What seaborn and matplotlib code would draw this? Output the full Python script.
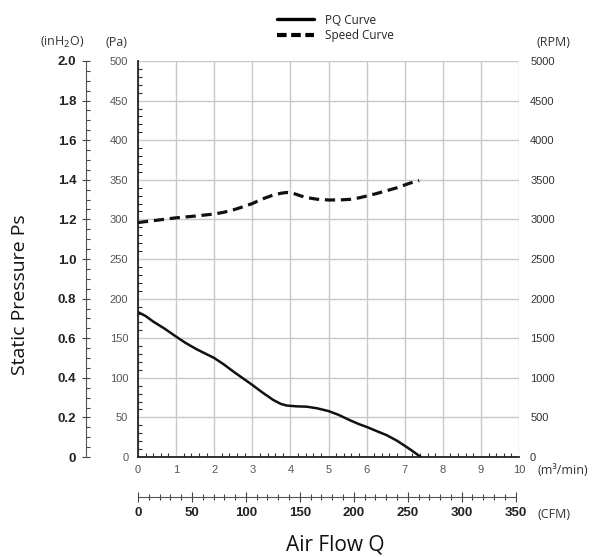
import numpy as np
import pandas as pd
import seaborn as sns
import matplotlib.pyplot as plt
from matplotlib.ticker import MultipleLocator, FixedLocator
from matplotlib.lines import Line2D

# PQ curve (m3/min -> Pa)
pq_flow = [0, 0.2, 0.4, 0.7, 1.0, 1.25, 1.54, 1.75, 2.0, 2.25, 2.5, 2.75, 3.0, 3.25, 3.55, 3.75, 3.9,
           4.15, 4.43, 4.7, 5.0, 5.25, 5.56, 5.8, 6.0, 6.25, 6.53, 6.8, 7.1, 7.25, 7.42]
pq_pa = [183, 178, 171, 162, 152, 144, 136, 131, 125, 117, 108, 99.5, 91, 82, 72, 67, 65,
         64, 63.5, 61.5, 58, 53.5, 46.5, 41.5, 38, 33, 27.5, 20.5, 11, 6, 0]

# speed curve (m3/min -> RPM)
sp_flow = [0, 0.5, 1.0, 1.5, 2.0, 2.25, 2.5, 2.75, 3.0, 3.25, 3.55, 3.75, 3.9, 4.07, 4.25, 4.43,
           4.7, 5.0, 5.3, 5.56, 5.8, 6.0, 6.25, 6.53, 6.8, 7.15, 7.38]
sp_rpm = [2960, 2990, 3020, 3042, 3068, 3090, 3120, 3158, 3200, 3255, 3308, 3330, 3340, 3330, 3300, 3275,
          3255, 3245, 3246, 3253, 3272, 3295, 3325, 3363, 3400, 3460, 3490]

q_ticks = list(range(0, 11))
pa_ticks = list(range(0, 501, 50))
rpm_ticks = list(range(0, 5001, 500))
inh2o_ticks = [0, 0.2, 0.4, 0.6, 0.8, 1.0, 1.2, 1.4, 1.6, 1.8, 2.0]
inh2o_labels = ["0", "0.2", "0.4", "0.6", "0.8", "1.0", "1.2", "1.4", "1.6", "1.8", "2.0"]
cfm_ticks = list(range(0, 351, 50))

pq = pd.DataFrame({"flow": pq_flow, "pa": pq_pa})
sp = pd.DataFrame({"flow": sp_flow, "rpm": sp_rpm})

sns.set_style("white")
plt.rcParams["font.family"] = ["Liberation Sans", "DejaVu Sans"]

fig = plt.figure(figsize=(5.95, 5.57), dpi=100)
ax = fig.add_axes([138/595, 1-457/557, 381/595, 396/557])

grid_c = "#c8c8c8"
sns.lineplot(data=pq, x="flow", y="pa", ax=ax, color="#111111", lw=1.8,
             solid_joinstyle="round", solid_capstyle="round")
ax.set_xlim(0, 10)
ax.set_ylim(0, 500)
ax.set_xticks(q_ticks)
ax.set_yticks(pa_ticks)
ax.xaxis.set_minor_locator(MultipleLocator(0.2))
ax.yaxis.set_minor_locator(MultipleLocator(10))
ax.grid(True, which="major", color=grid_c, lw=1)
ax.set_xlabel("")
ax.set_ylabel("")
for s in ["top", "right"]:
    ax.spines[s].set_visible(False)
for s in ["left", "bottom"]:
    ax.spines[s].set_color("#222222")
    ax.spines[s].set_linewidth(1.3)
ax.tick_params(axis="both", which="major", length=0, labelsize=8, labelcolor="#555555")
ax.tick_params(axis="x", which="major", pad=6)
ax.tick_params(axis="y", which="major", pad=7)
ax.tick_params(axis="both", which="minor", direction="in", length=3, width=0.8, color="#333333")
ax.tick_params(axis="x", which="minor", bottom=True)
ax.tick_params(axis="y", which="minor", left=True)

# RPM axis on the right
ax2 = ax.twinx()
sns.lineplot(data=sp, x="flow", y="rpm", ax=ax2, color="#111111", lw=2.3, linestyle=(0, (3.2, 1.8)))
ax2.set_ylim(0, 5000)
ax2.set_yticks(rpm_ticks)
ax2.set_ylabel("")
for s in ax2.spines.values():
    s.set_visible(False)
ax2.tick_params(axis="y", length=0, pad=8, labelsize=8, labelcolor="#333333")

# inH2O axis on the far left
sec = ax.secondary_yaxis((86-138)/381, functions=(lambda p: p/250, lambda i: i*250))
sec.yaxis.set_major_locator(FixedLocator(inh2o_ticks))
sec.set_yticklabels(inh2o_labels, fontweight="bold", fontsize=9.5, color="#222222")
sec.yaxis.set_minor_locator(MultipleLocator(0.05))
sec.tick_params(which="major", direction="inout", length=6, width=0.8, pad=4, color="#444444")
sec.tick_params(which="minor", direction="in", length=3, width=0.8, color="#444444")
sec.spines["left"].set_color("#555555")
sec.spines["left"].set_linewidth(0.8)

# CFM axis below
cfm = ax.secondary_xaxis((457-497)/396, functions=(lambda q: q*35.3147, lambda c: c/35.3147))
cfm.xaxis.set_major_locator(FixedLocator(cfm_ticks))
cfm.set_xticklabels([str(t) for t in cfm_ticks], fontweight="bold", fontsize=9.5, color="#222222")
cfm.xaxis.set_minor_locator(MultipleLocator(10))
cfm.tick_params(which="major", direction="inout", length=7, width=0.8, pad=4, color="#444444")
cfm.tick_params(which="minor", direction="inout", length=4, width=0.8, color="#444444")
cfm.spines["bottom"].set_color("#555555")
cfm.spines["bottom"].set_linewidth(0.8)
cfm.spines["bottom"].set_bounds(0, 350)

# unit labels
unit = dict(fontsize=9, color="#333333", family="Open Sans", va="center")
fig.text(62/595, 1-42/557, "(inH$_2$O)", ha="center", **unit)
fig.text(116/595, 1-42/557, "(Pa)", ha="center", **unit)
fig.text(553/595, 1-42/557, "(RPM)", ha="center", **unit)
fig.text(537/595, 1-470/557, "(m³/min)", ha="left", **unit)
fig.text(538/595, 1-514/557, "(CFM)", ha="left", **unit)

fig.text(20/595, 1-295/557, "Static Pressure Ps", rotation=90, ha="center", va="center",
         fontsize=14, color="#111111", family="Open Sans")
fig.text(335/595, 1-545/557, "Air Flow Q", ha="center", va="center", fontsize=15, color="#111111",
         family="Open Sans")

handles = [Line2D([], [], color="black", lw=2.4),
           Line2D([], [], color="black", lw=3, linestyle=(0, (2.3, 1.1)))]
fig.legend(handles, ["PQ Curve", "Speed Curve"], loc="upper left", bbox_to_anchor=(266/595, 1-3/557),
           frameon=False, handlelength=3.2, handletextpad=0.9, labelspacing=0.2,
           prop={"family": "Open Sans", "size": 8.5})

fig.savefig("out.png", dpi=100, facecolor="white")
